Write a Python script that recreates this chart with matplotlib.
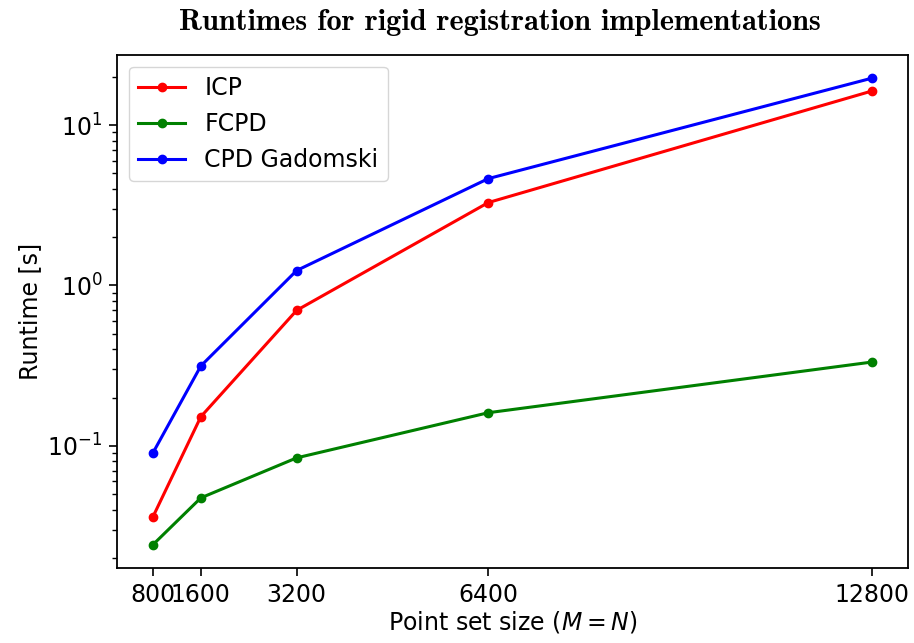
import matplotlib
matplotlib.use("Agg")
import matplotlib.pyplot as plt

## Donnees
taille = [800, 1600, 3200, 6400, 12800]
icp = [0.0361, 0.152, 0.70, 3.29, 16.3]
fcpd = [0.0242, 0.0474, 0.0842, 0.161, 0.333]
cpd_gadomski = [0.0904, 0.315, 1.24, 4.64, 19.6]

plt.rcParams['font.size'] = 17
plt.rcParams['axes.linewidth'] = 1.3
plt.rcParams['xtick.major.size'] = 5.5
plt.rcParams['ytick.major.size'] = 5.5
plt.rcParams['ytick.minor.size'] = 3.5
plt.rcParams['xtick.major.width'] = 1.2
plt.rcParams['ytick.major.width'] = 1.2
plt.rcParams['ytick.minor.width'] = 1.0
plt.rcParams['xtick.major.pad'] = 5
plt.rcParams['ytick.major.pad'] = 5

fig = plt.figure(figsize=(9.14, 6.43), dpi=100)
ax = fig.add_axes([0.128, 0.1166, 0.865, 0.798])

ax.plot(taille, icp, 'o-', color='red', lw=2.2, ms=6, label='ICP')
ax.plot(taille, fcpd, 'o-', color='green', lw=2.2, ms=6, label='FCPD')
ax.plot(taille, cpd_gadomski, 'o-', color='blue', lw=2.2, ms=6, label='CPD Gadomski')

ax.set_yscale('log')
ax.set_xticks(taille)
ax.set_xticklabels([str(t) for t in taille])
ax.set_xlabel('Point set size ($M = N$)', labelpad=2)
ax.set_ylabel('Runtime [s]')
ax.legend(loc='upper left')

# titre : on ajuste la taille pour obtenir ~641 px de large
titre = fig.text(499.5 / 914, 1 - 30 / 643,
                 'Runtimes for rigid registration implementations',
                 fontfamily='cmb10', fontsize=20, ha='center', va='baseline')
fig.canvas.draw()
largeur = titre.get_window_extent().width
titre.set_fontsize(20 * 641 / largeur)

fig.savefig('out.png', dpi=100)
